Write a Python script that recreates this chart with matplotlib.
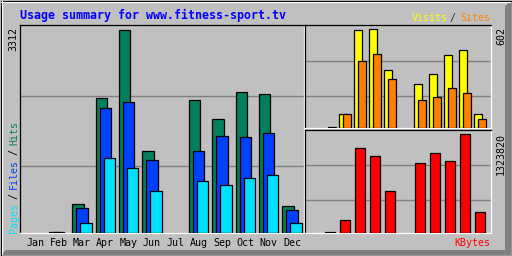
import matplotlib
matplotlib.use("Agg")
import matplotlib.pyplot as plt
from matplotlib.patches import Polygon, Rectangle
import numpy as np

# ---- data ----
months = ['Jan', 'Feb', 'Mar', 'Apr', 'May', 'Jun', 'Jul', 'Aug', 'Sep', 'Oct', 'Nov', 'Dec']
hits   = [0, 15, 478, 2204, 3312, 1341, 0, 2172, 1862, 2302, 2270, 445]
files  = [0, 12, 413, 2041, 2139, 1194, 0, 1341, 1585, 1569, 1634, 380]
pages  = [0, 0, 168, 1227, 1064, 690, 0, 852, 787, 901, 950, 168]
visits = [0, 0, 86, 598, 602, 356, 0, 270, 332, 448, 479, 86]
sites  = [0, 5, 86, 412, 455, 301, 0, 172, 190, 246, 215, 55]
kbytes = [0, 12000, 179500, 1135400, 1027700, 556500, 0, 933400, 1068000, 960300, 1323820, 287200]
title = "Usage summary for www.fitness-sport.tv"

# ---- colours ----
BG = '#C0C0C0'
C_HITS, C_FILES, C_PAGES = '#00805C', '#0040FF', '#00E0FF'
C_VISITS, C_SITES, C_KB = '#FFFF00', '#FF8000', '#FF0000'
GRID = '#808080'
MONO = 'DejaVu Sans Mono'
W, H = 512, 256

fig = plt.figure(figsize=(W / 100, H / 100), dpi=100)
fig.patch.set_facecolor(BG)

bg = fig.add_axes([0, 0, 1, 1])
bg.set_xlim(0, W)
bg.set_ylim(H, 0)
bg.axis('off')
bg.set_zorder(-5)
# bevel
bg.add_patch(Polygon([(511.5, 0.5), (511.5, 255.5), (0.5, 255.5), (6, 250), (505, 250), (505, 6)],
                     closed=True, facecolor='#808080', edgecolor='none'))
bg.plot([1, 510], [1.5, 1.5], color='white', lw=0.8)
bg.plot([1.5, 1.5], [1, 254], color='white', lw=0.8)
bg.add_patch(Rectangle((0.5, 0.5), 511, 255, fill=False, edgecolor='black', lw=0.8))


def panel(l, t, r, b):
    ax = fig.add_axes([l / W, 1 - b / H, (r - l) / W, (b - t) / H])
    ax.set_facecolor(BG)
    for s in ('left', 'top'):
        ax.spines[s].set_color('black')
        ax.spines[s].set_linewidth(0.9)
    for s in ('right', 'bottom'):
        ax.spines[s].set_color('white')
        ax.spines[s].set_linewidth(0.9)
    ax.set_yticks([])
    ax.set_xticks([])
    return ax


def bars(ax, vals, offset, width, color):
    xs = [i + offset for i, v in enumerate(vals) if v > 0]
    hs = [v for v in vals if v > 0]
    ax.bar(xs, hs, width, color=color, edgecolor='black', linewidth=0.9, zorder=3)


x = np.arange(len(months))

# main panel
ax1 = panel(20, 25, 304, 233)
top1 = max(hits) * 624 / 610
ax1.set_ylim(0, top1)
ax1.set_xlim(-0.657, 11.517)
for f in (0.324, 0.660):
    ax1.axhline(f * top1, color=GRID, lw=1.0, zorder=1)
bars(ax1, hits, -0.172, 0.49, C_HITS)
bars(ax1, files, 0.0, 0.49, C_FILES)
bars(ax1, pages, 0.172, 0.49, C_PAGES)
ax1.set_xticks(x, months)
ax1.tick_params(axis='x', length=0, pad=3.9, labelsize=7.2)
for lab in ax1.get_xticklabels():
    lab.set_fontfamily(MONO)

# visits / sites panel
ax2 = panel(305, 25, 490.7, 128.3)
top2 = max(visits) * 307 / 294
ax2.set_ylim(0, top2)
ax2.set_xlim(-0.667, 11.713)
for f in (0.313, 0.655):
    ax2.axhline(f * top2, color=GRID, lw=1.0, zorder=1)
bars(ax2, visits, -0.133, 0.49, C_VISITS)
bars(ax2, sites, 0.133, 0.49, C_SITES)

# kbytes panel
ax3 = panel(305, 130, 490.7, 233)
top3 = max(kbytes) * 307 / 295
ax3.set_ylim(0, top3)
ax3.set_xlim(-0.667, 11.713)
for f in (0.316, 0.658):
    ax3.axhline(f * top3, color=GRID, lw=1.0, zorder=1)
bars(ax3, kbytes, 0.0, 0.62, C_KB)

# ---- texts ----
bg.text(20, 19.5, title, color='#0000FF', fontfamily=MONO, fontweight='bold',
        fontsize=8.4, ha='left', va='baseline')
bg.text(411.5, 21, 'Visits', color=C_VISITS, fontfamily=MONO, fontsize=7.2, ha='left', va='baseline')
bg.text(452.3, 21, '/', color='#202020', fontfamily=MONO, fontsize=7.2, ha='center', va='baseline')
bg.text(490, 21, 'Sites', color=C_SITES, fontfamily=MONO, fontsize=7.2, ha='right', va='baseline')
bg.text(490, 246, 'KBytes', color=C_KB, fontfamily=MONO, fontsize=7.2, ha='right', va='baseline')

rot = dict(rotation=90, rotation_mode='anchor', fontfamily=MONO, fontsize=7.2)
bg.text(16.7, 27, str(max(hits)), color='black', ha='right', va='baseline', **rot)
bg.text(504, 27, str(max(visits)), color='black', ha='right', va='baseline', **rot)
bg.text(504, 132.7, str(max(kbytes)), color='black', ha='right', va='baseline', **rot)

pieces = [('Pages', C_PAGES, 233), ('/', 'black', 199), ('Files', C_FILES, 189),
          ('/', 'black', 155), ('Hits', C_HITS, 145)]
for txt, col, yb in pieces:
    bg.text(17, yb, txt, color=col, ha='left', va='baseline', **rot)

fig.savefig('out.png', dpi=100, facecolor=fig.get_facecolor())
